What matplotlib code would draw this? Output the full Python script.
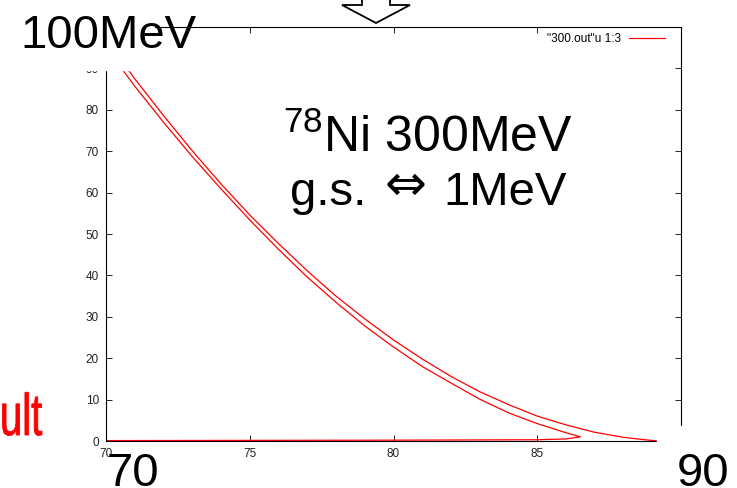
"""
Kinematic locus from 300.out (columns 1:3) with slide annotations on top.
"""
import matplotlib
matplotlib.use('Agg')
import matplotlib.pyplot as plt
from matplotlib.patches import Polygon, Rectangle, PathPatch
from matplotlib.textpath import TextPath
from matplotlib.font_manager import FontProperties
from matplotlib.transforms import Affine2D, IdentityTransform
import numpy as np

plt.rcParams['font.family'] = ['Liberation Sans', 'DejaVu Sans']
plt.rcParams['mathtext.fontset'] = 'custom'
plt.rcParams['mathtext.rm'] = 'Liberation Sans'

# inner branch: out along the axis to the turning point, then back up
inner_x = [70.0, 75.0, 80.0, 85.0, 86.0, 86.5, 86.0, 85.0, 84.0, 83.0,
           82.0, 81.0, 80.0, 79.0, 78.0, 77.0, 76.0, 75.0, 74.0, 73.0,
           72.0, 71.0, 70.0, 69.5]
inner_y = [0.1, 0.15, 0.2, 0.3, 0.5, 1.0, 2.0, 4.2, 6.8, 10.1,
           14.0, 18.0, 22.7, 27.8, 33.5, 39.6, 46.3, 53.4, 60.9, 68.7,
           77.0, 85.7, 95.0, 100.5]

# outer branch coming back down to zero
outer_x = [69.5, 70.0, 71.0, 72.0, 73.0, 74.0, 75.0, 76.0, 77.0, 78.0,
           79.0, 80.0, 81.0, 82.0, 83.0, 84.0, 85.0, 86.0, 87.0, 88.0,
           88.6, 89.2]
outer_y = [101.0, 97.0, 87.5, 78.6, 70.1, 62.1, 54.6, 47.7, 41.1, 35.0,
           29.5, 24.4, 19.8, 15.6, 11.9, 8.8, 6.0, 3.9, 2.1, 0.9,
           0.4, 0.0]

x_ticks = [70, 75, 80, 85, 90]
y_ticks = [0, 10, 20, 30, 40, 50, 60, 70, 80, 90, 100]

W, H = 737, 488
fig = plt.figure(figsize=(W / 100, H / 100), dpi=100)
ax = fig.add_axes([106 / W, 47 / H, 575 / W, 414 / H])

angle = np.concatenate([inner_x, outer_x])
value = np.concatenate([inner_y, outer_y])
ax.plot(angle, value, color='#ff0000', lw=0.9, label='"300.out"u 1:3',
        zorder=2)

ax.set_xlim(70, 90)
ax.set_ylim(0, 100)
ax.set_xticks(x_ticks)
ax.set_yticks(y_ticks)
ax.tick_params(direction='in', length=4, width=0.7, top=True, right=True,
               labelsize=8.5, pad=5, colors='#222222')
for sp in ax.spines.values():
    sp.set_linewidth(0.8)
    sp.set_zorder(3)

ax.legend(loc='upper right', frameon=False, markerfirst=False, fontsize=8.5,
          handlelength=3.0, handletextpad=0.7, borderpad=0,
          borderaxespad=0, bbox_to_anchor=(0.972, 0.985))

# slide overlays: white boxes behind the big labels
fig.patches.append(Rectangle((0, 1 - 70 / H), 154 / W, 70 / H,
                             transform=fig.transFigure, color='white',
                             zorder=5))
fig.patches.append(Rectangle((657 / W, 0), 80 / W, 62 / H,
                             transform=fig.transFigure, color='white',
                             zorder=5))

# hollow down arrow at the top
arrow_px = [(362, 0), (362, 5), (342, 5), (376, 23), (410, 5), (390, 5),
            (390, 0)]
arrow = [(px / W, 1 - py / H) for px, py in arrow_px]
fig.patches.append(Polygon(arrow, closed=False, transform=fig.transFigure,
                           facecolor='white', edgecolor='black', lw=1.3,
                           zorder=6))

fig.text(20 / W, 1 - 48 / H, '100MeV', fontsize=34, va='baseline',
         zorder=7)
fig.text(283 / W, 1 - 152 / H, r'$\mathregular{^{78}}$Ni 300MeV',
         fontsize=36, va='baseline', zorder=7)
fig.text(290 / W, 1 - 205 / H, 'g.s.', fontsize=34, va='baseline',
         zorder=7)
fig.text(405 / W, 1 - 186 / H, '\u21d4', fontsize=36, ha='center',
         va='center', family=['DejaVu Sans'], zorder=7)
fig.text(443 / W, 1 - 205 / H, '1MeV', fontsize=34, va='baseline',
         zorder=7)
fig.text(107 / W, 1 - 486 / H, '70', fontsize=34, va='baseline',
         zorder=7)
fig.text(677 / W, 1 - 486 / H, '90', fontsize=34, va='baseline',
         zorder=7)

# red "Result" in a narrow face, mostly running off the left edge
res_path = TextPath((0, 0), 'Result', size=59,
                    prop=FontProperties(family='Liberation Sans'))
squeeze = 0.68
right = res_path.get_extents().x1 * squeeze
res_tf = Affine2D().scale(squeeze, 1).translate(42 - right, H - 435)
fig.patches.append(PathPatch(res_path, transform=res_tf + IdentityTransform(),
                             facecolor='#ff0000', edgecolor='#ff0000',
                             lw=0.6, zorder=7))

fig.savefig('out.png', dpi=100)
